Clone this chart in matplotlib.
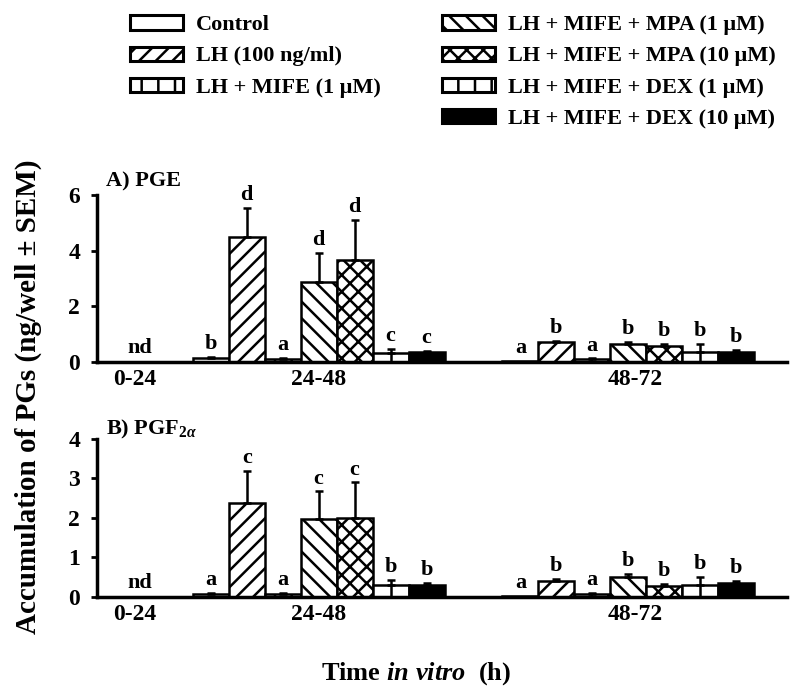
import numpy as np
import matplotlib
matplotlib.use("Agg")
import matplotlib.pyplot as plt
from matplotlib.patches import Patch

plt.rcParams["font.family"] = ["Liberation Serif", "DejaVu Serif"]
plt.rcParams["font.weight"] = "bold"
plt.rcParams["hatch.linewidth"] = 1.8
plt.rcParams["mathtext.fontset"] = "custom"
plt.rcParams["mathtext.rm"] = "Liberation Serif:bold"
plt.rcParams["mathtext.it"] = "Liberation Serif:italic:bold"

# treatments (legend order)
treatments = ["Control", "LH (100 ng/ml)", "LH + MIFE (1 \u03bcM)",
              "LH + MIFE + MPA (1 \u03bcM)", "LH + MIFE + MPA (10 \u03bcM)",
              "LH + MIFE + DEX (1 \u03bcM)", "LH + MIFE + DEX (10 \u03bcM)"]
periods = ["0-24", "24-48", "48-72"]

# A) PGE, ng/well  (0-24 h not detected)
pge_24_48 = [0.15, 4.5, 0.1, 2.88, 3.65, 0.33, 0.35]
pge_24_48_err = [0.05, 1.05, 0.04, 1.05, 1.45, 0.14, 0.05]
pge_24_48_sig = ["b", "d", "a", "d", "d", "c", "c"]
pge_48_72 = [0.05, 0.72, 0.1, 0.65, 0.57, 0.38, 0.38]
pge_48_72_err = [0.0, 0.05, 0.03, 0.08, 0.07, 0.28, 0.05]
pge_48_72_sig = ["a", "b", "a", "b", "b", "b", "b"]

# B) PGF2a, ng/well
pgf_24_48 = [0.08, 2.38, 0.08, 1.97, 2.0, 0.3, 0.3]
pgf_24_48_err = [0.03, 0.82, 0.02, 0.7, 0.9, 0.13, 0.05]
pgf_24_48_sig = ["a", "c", "a", "c", "c", "b", "b"]
pgf_48_72 = [0.03, 0.4, 0.08, 0.5, 0.27, 0.3, 0.35]
pgf_48_72_err = [0.0, 0.05, 0.03, 0.08, 0.07, 0.2, 0.05]
pgf_48_72_sig = ["a", "b", "a", "b", "b", "b", "b"]

hatches = ["", "//", "|", "\\\\", "xx", "", ""]
faces = ["white", "white", "white", "white", "white", "white", "black"]
legend_hatches = ["", "//", "|", "\\\\", "xx", "|", ""]

# layout in bar-width units
g2_start, g3_start, xmax = 2.67, 11.28, 19.2
tick_pos = [1.05, g2_start + 3.5, g3_start + 3.7]

fig = plt.figure(figsize=(8, 6.99), dpi=100)
axA = fig.add_axes([0.121, 0.482, 0.863, 0.239])
axB = fig.add_axes([0.121, 0.146, 0.863, 0.226])


def draw(ax, groups, ymax, step, off):
    for start, (vals, errs, sig) in groups:
        xs = start + np.arange(len(vals)) + 0.5
        for i in range(len(vals)):
            ax.bar(xs[i], vals[i], width=1.0, color=faces[i], edgecolor="black",
                   linewidth=1.8, hatch=hatches[i], zorder=2)
            if i == 5:
                # divided white bar
                ax.vlines(xs[i], 0, vals[i], color="black", linewidth=1.8,
                          zorder=2)
            if errs[i] > 0:
                ax.errorbar(xs[i], vals[i], yerr=[[0], [errs[i]]], fmt="none",
                            ecolor="black", elinewidth=1.8, capsize=3,
                            capthick=1.8, zorder=3)
            ax.text(xs[i], vals[i] + errs[i] + off, sig[i], ha="center",
                    va="bottom", fontsize=16, fontweight="bold")
    ax.text(1.2, off * 1.5, "nd", ha="center", va="bottom", fontsize=16,
            fontweight="bold")
    ax.set_xlim(0, xmax)
    ax.set_ylim(0, ymax)
    ax.set_yticks(np.arange(0, ymax + 0.01, step))
    ax.set_xticks(tick_pos)
    ax.set_xticklabels(periods)
    for s in ["top", "right"]:
        ax.spines[s].set_visible(False)
    for s in ["left", "bottom"]:
        ax.spines[s].set_linewidth(2.5)
    ax.tick_params(axis="y", direction="out", length=4, width=2, labelsize=17,
                   pad=8)
    ax.tick_params(axis="x", length=0, labelsize=17, pad=5)
    for lab in ax.get_xticklabels() + ax.get_yticklabels():
        lab.set_fontweight("bold")


draw(axA, [(g2_start, (pge_24_48, pge_24_48_err, pge_24_48_sig)),
           (g3_start, (pge_48_72, pge_48_72_err, pge_48_72_sig))], 6, 2, 0.1)
draw(axB, [(g2_start, (pgf_24_48, pgf_24_48_err, pgf_24_48_sig)),
           (g3_start, (pgf_48_72, pgf_48_72_err, pgf_48_72_sig))], 4, 1, 0.07)

fig.text(0.132, 0.733, "A) PGE", fontsize=16, fontweight="bold")
fig.text(0.132, 0.378, r"B) PGF$_{2\alpha}$", fontsize=16, fontweight="bold")

fig.text(0.035, 0.433, "Accumulation of PGs (ng/well \u00b1 SEM)", rotation=90,
         ha="center", va="center", fontsize=21, fontweight="bold")
fig.text(0.52, 0.037, r"Time $\mathit{in\ vitro}$  (h)", ha="center",
         va="center", fontsize=19, fontweight="bold")

handles = [Patch(facecolor=faces[i], edgecolor="black", linewidth=2.2,
                 hatch=legend_hatches[i], label=treatments[i]) for i in range(7)]
leg_kw = dict(loc="upper left", frameon=False, fontsize=16, handlelength=2.4,
              handleheight=0.6, labelspacing=0.5, handletextpad=0.6,
              borderpad=0, borderaxespad=0)
leg1 = fig.legend(handles=handles[:3], bbox_to_anchor=(0.162, 0.978), **leg_kw)
leg2 = fig.legend(handles=handles[3:], bbox_to_anchor=(0.552, 0.978), **leg_kw)
for leg in (leg1, leg2):
    for t in leg.get_texts():
        t.set_fontweight("bold")

fig.savefig("out.png", dpi=100)
